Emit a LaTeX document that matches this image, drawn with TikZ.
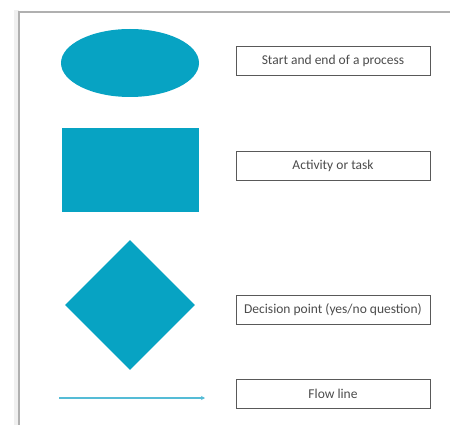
\documentclass[tikz,border=0pt]{standalone}
\usepackage{fontspec}
\setmainfont{Carlito}
\usetikzlibrary{shapes.geometric,arrows.meta}
\definecolor{teal}{HTML}{07A3C3}
\definecolor{flow}{HTML}{55BCD6}
\definecolor{frame}{HTML}{B0B0B0}
\tikzset{
  symb/.style={fill=teal, draw=none, inner sep=0pt},
  legend/.style={draw=black!65, line width=0.9pt, minimum width=194pt, minimum height=29pt,
    inner sep=0pt, font=\fontsize{13.5}{15}\selectfont, text=black!70},
}
\begin{document}
\begin{tikzpicture}[x=1pt,y=-1pt]
  \useasboundingbox (0,0) rectangle (450,425);
  \fill[white] (0,0) rectangle (450,425);
  % page edge with a soft shadow
  \fill[black!6] (14,10) rectangle (19,425);
  \draw[frame, line width=1.2pt] (19,425) -- (19,12) -- (450,12);
  % symbols
  \node[symb, ellipse, minimum width=138pt, minimum height=68pt] (ell) at (130,63) {};
  \node[symb, rectangle, minimum width=137pt, minimum height=84pt] (rect) at (130.5,170) {};
  \node[symb, diamond, minimum width=130pt, minimum height=130pt] (dia) at (130,305) {};
  \coordinate (fs) at (59,398);
  \coordinate (fe) at (205,398);
  \draw[flow, line width=1.3pt, -{Stealth[length=4pt,width=4pt]}] (fs) -- (fe);
  % descriptions
  \node[legend] (l1) at (333,61) {Start and end of a process};
  \node[legend] (l2) at (333,166) {Activity or task};
  \node[legend] (l3) at (333,310) {Decision point (yes/no question)};
  \node[legend] (l4) at (333,394) {Flow line};
\end{tikzpicture}
\end{document}
